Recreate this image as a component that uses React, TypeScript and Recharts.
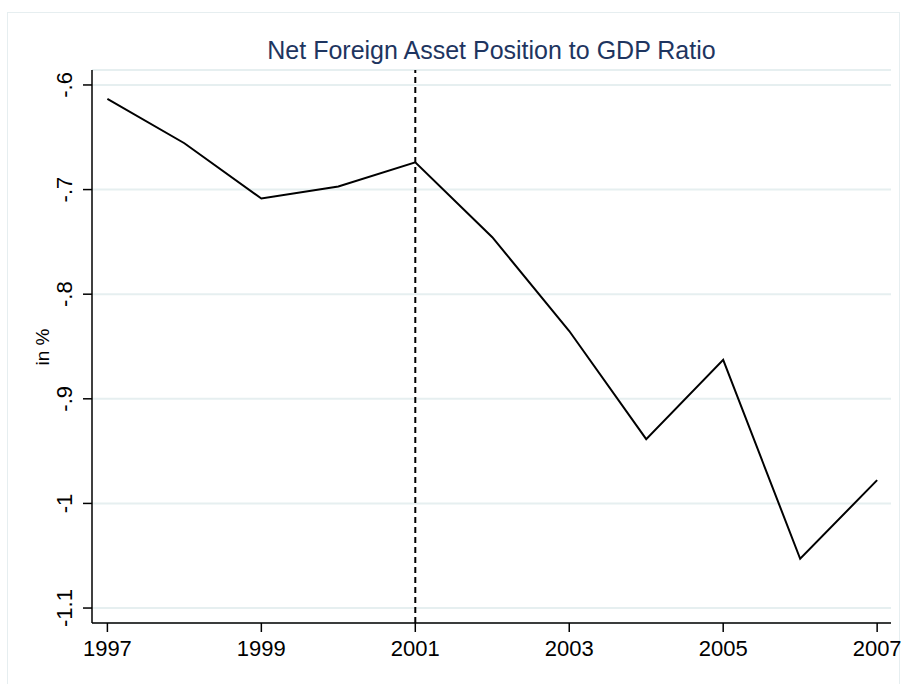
import { LineChart, Line, XAxis, YAxis, CartesianGrid, ReferenceLine } from 'recharts';

const years = [1997, 1998, 1999, 2000, 2001, 2002, 2003, 2004, 2005, 2006, 2007];
const nfaRatio = [-0.6134, -0.6557, -0.7086, -0.697, -0.6739, -0.7455, -0.8352, -0.9385, -0.8628, -1.0529, -0.9777];
const xTicks = [1997, 1999, 2001, 2003, 2005, 2007];
const yTicks = [-1.1, -1, -0.9, -0.8, -0.7, -0.6];
const breakYear = 2001;

const data = years.map((year, i) => ({ year, value: nfaRatio[i] }));

const FONT = '"Liberation Sans", Arial, Helvetica, sans-serif';

// Stata style: "-.6" instead of "-0.6"
const fmtY = (v: number) => String(Number(v.toFixed(2))).replace(/^(-?)0\./, '$1.');

const YTick = (props: any) => {
  const { x, y, payload } = props;
  return (
    <text
      transform={`translate(${x - 9},${y}) rotate(-90)`}
      textAnchor="middle"
      fontSize={22}
      fontFamily={FONT}
      fill="#000"
    >
      {fmtY(payload.value)}
    </text>
  );
};

const XTick = (props: any) => {
  const { x, y, payload } = props;
  return (
    <text x={x} y={y} dy={22} textAnchor="middle" fontSize={22} fontFamily={FONT} fill="#000">
      {payload.value}
    </text>
  );
};

export default function App() {
  return (
    <div style={{ position: 'absolute', left: 0, top: 0, width: 902, height: 684, background: '#fff', overflow: 'hidden' }}>
      <div
        style={{
          position: 'absolute',
          left: 7,
          top: 12,
          width: 893,
          height: 700,
          border: '1px solid #e6eef0',
          boxSizing: 'border-box',
        }}
      />
      <svg width={902} height={684} style={{ position: 'absolute', left: 0, top: 0 }}>
        <text x={491.5} y={59} textAnchor="middle" fontSize={25} fontFamily={FONT} fill="#1e3560">
          Net Foreign Asset Position to GDP Ratio
        </text>
        <text
          transform="translate(49,347) rotate(-90)"
          textAnchor="middle"
          fontSize={19}
          fontFamily={FONT}
          fill="#000"
        >
          in %
        </text>
      </svg>
      <div style={{ position: 'absolute', left: 0, top: 0 }}>
        <LineChart width={902} height={684} data={data} margin={{ top: 70, right: 11, bottom: 21, left: 32 }}>
          <CartesianGrid vertical={false} stroke="#e6eff0" strokeWidth={2} />
          <XAxis
            dataKey="year"
            type="number"
            domain={[1996.8, 2007.18]}
            ticks={xTicks}
            tick={<XTick />}
            tickSize={9}
            height={40}
            stroke="#000"
            strokeWidth={1.5}
            allowDataOverflow
          />
          <YAxis
            type="number"
            domain={[-1.1143, -0.5857]}
            ticks={yTicks}
            tick={<YTick />}
            tickSize={9}
            width={60}
            stroke="#000"
            strokeWidth={1.5}
            allowDataOverflow
          />
          <ReferenceLine x={breakYear} stroke="#000" strokeWidth={2} strokeDasharray="6 4" />
          <Line
            type="linear"
            dataKey="value"
            stroke="#000"
            strokeWidth={2}
            dot={false}
            isAnimationActive={false}
          />
        </LineChart>
      </div>
    </div>
  );
}
